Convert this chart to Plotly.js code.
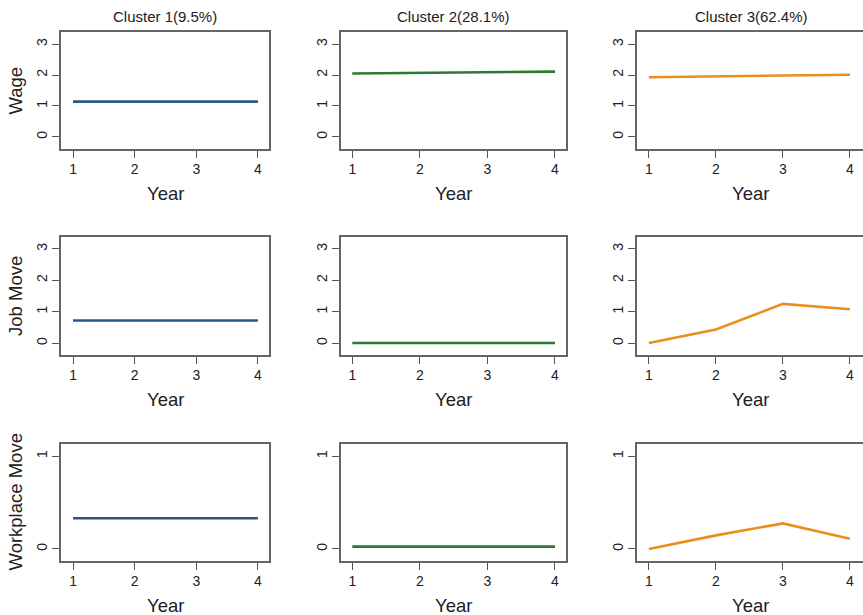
<!DOCTYPE html>
<html>
<head>
<meta charset="utf-8">
<script src="https://cdn.plot.ly/plotly-3.0.1.min.js"></script>
<style>html,body{margin:0;padding:0;background:#fff;}#chart{width:863px;height:615px;}</style>
</head>
<body>
<div id="chart"></div>
<script>
// ---- data ----
var years = [1, 2, 3, 4];
var clusterTitles = ["Cluster 1(9.5%)", "Cluster 2(28.1%)", "Cluster 3(62.4%)"];
var rowLabels = ["Wage", "Job Move", "Workplace Move"];
var xTickLabels = ["1", "2", "3", "4"];

var wageC1 = [1.14, 1.14, 1.14, 1.14];
var wageC2 = [2.05, 2.07, 2.08, 2.11];
var wageC3 = [1.93, 1.96, 1.98, 2.01];

var jobC1 = [0.72, 0.72, 0.72, 0.72];
var jobC2 = [0.0, 0.0, 0.0, 0.0];
var jobC3 = [0.0, 0.43, 1.25, 1.08];

var workC1 = [0.33, 0.33, 0.33, 0.33];
var workC2 = [0.025, 0.025, 0.025, 0.025];
var workC3 = [0.0, 0.146, 0.275, 0.11];

var yTicksWide = [0, 1, 2, 3];
var yTicksNarrow = [0, 1];

// ---- layout constants ----
var W = 863, H = 615;
var colors = ["#2a5783", "#2b7a2e", "#ea8f1c"];
var colBox = [[61, 269], [341, 566], [637, 866]];
var rowBox = [[32, 149], [237, 355], [444, 561]];
var xRanges = [[0.805, 4.18], [0.833, 4.163], [0.823, 4.195]];
var yRanges = [[-0.39, 3.39], [-0.38, 3.38], [-0.13, 1.13]];
var yTicks = [yTicksWide, yTicksWide, yTicksNarrow];
var series = [[wageC1, wageC2, wageC3], [jobC1, jobC2, jobC3], [workC1, workC2, workC3]];

var font = "Liberation Sans, Arial, sans-serif";
var traces = [];
var layout = {
  width: W, height: H,
  margin: {l: 0, r: 0, t: 0, b: 0},
  paper_bgcolor: "#ffffff", plot_bgcolor: "#ffffff",
  showlegend: false,
  font: {family: font, color: "#222"},
  annotations: []
};

for (var r = 0; r < 3; r++) {
  for (var c = 0; c < 3; c++) {
    var idx = r * 3 + c + 1;
    var xa = idx === 1 ? "x" : "x" + idx;
    var ya = idx === 1 ? "y" : "y" + idx;
    traces.push({
      x: years, y: series[r][c], type: "scatter", mode: "lines",
      line: {color: colors[c], width: 2.6},
      xaxis: xa, yaxis: ya, hoverinfo: "skip"
    });
    var xKey = idx === 1 ? "xaxis" : "xaxis" + idx;
    var yKey = idx === 1 ? "yaxis" : "yaxis" + idx;
    layout[xKey] = {
      domain: [colBox[c][0] / W, Math.min(colBox[c][1] / W, 1)],
      range: xRanges[c], anchor: ya,
      tickvals: years, ticktext: xTickLabels,
      showgrid: false, zeroline: false,
      showline: true, mirror: true, linecolor: "#666", linewidth: 1.6,
      ticks: "outside", ticklen: 7, tickwidth: 1, tickcolor: "#555",
      tickfont: {size: 14, family: font, color: "#222"},
      fixedrange: true
    };
    layout[yKey] = {
      domain: [1 - rowBox[r][1] / H, 1 - rowBox[r][0] / H],
      range: yRanges[r], anchor: xa,
      tickvals: yTicks[r], ticktext: yTicks[r].map(String),
      tickangle: -90,
      showgrid: false, zeroline: false,
      showline: true, mirror: true, linecolor: "#666", linewidth: 1.6,
      ticks: "outside", ticklen: 7, tickwidth: 1, tickcolor: "#555",
      tickfont: {size: 14, family: font, color: "#222"},
      fixedrange: true
    };
    // x-axis title "Year"
    layout.annotations.push({
      text: "Year", xref: "paper", yref: "paper",
      x: (colBox[c][0] + Math.min(colBox[c][1], 863)) / 2 / W,
      y: 1 - (rowBox[r][1] + 44) / H,
      xanchor: "center", yanchor: "middle", showarrow: false,
      font: {size: 18.5, family: font, color: "#222"}
    });
  }
  // row labels
  layout.annotations.push({
    text: rowLabels[r], xref: "paper", yref: "paper",
    x: 15 / W, y: 1 - (rowBox[r][0] + rowBox[r][1]) / 2 / H,
    xanchor: "center", yanchor: "middle", textangle: -90, showarrow: false,
    font: {size: 18.5, family: font, color: "#222"}
  });
}
for (var k = 0; k < 3; k++) {
  layout.annotations.push({
    text: clusterTitles[k], xref: "paper", yref: "paper",
    x: (colBox[k][0] + colBox[k][1]) / 2 / W, y: 1 - 17 / H,
    xanchor: "center", yanchor: "middle", showarrow: false,
    font: {size: 15, family: font, color: "#222"}
  });
}

Plotly.newPlot("chart", traces, layout, {displayModeBar: false, staticPlot: true});
</script>
</body>
</html>
